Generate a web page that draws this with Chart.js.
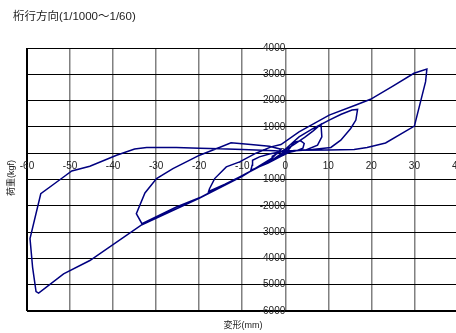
<!DOCTYPE html>
<html>
<head>
<meta charset="utf-8">
<script src="https://cdn.jsdelivr.net/npm/chart.js@4/dist/chart.umd.min.js"></script>
<style>
  html, body { margin: 0; padding: 0; background: #fff; overflow: hidden; }
  #wrap { width: 470px; height: 333px; }
</style>
</head>
<body>
<div id="wrap"><canvas id="hysteresisChart" width="470" height="333"></canvas></div>
<script>
// load test data: deformation (mm) vs load (kgf), in test order
const deformMm = [
  0, 1.0, 2.1, 3.6, 4.4, 4.1, 2.5, 0.5, -1.5, -3.2, -3.0, -1.5, 0,
  2, 4.5, 6.5, 8.3, 8.5, 7.5, 4.8, 1.5, -1, -4, -8, -7.7, -7.6, -6, -3.7, -1, 0,
  3.2, 6.5, 10.2, 13, 15.5, 16.8, 16.4, 15.2, 12.9, 10.6, 6.3, 2, 0, -5, -10, -14, -17.8,
  -17.6, -16.4, -13.7, -10.6, -6.8, -3.3, -1,
  3.2, 10.2, 16.4, 19.8, 25, 29.9, 32.9, 32.6, 30, 23.3, 19, 16, 10, 3, 0, -3,
  -10.6, -19.5, -25.3, -33.3, -34.6, -32.6, -29.9, -26.1, -19.9, -15.3, -12.6, -8, -3.7, -1,
  -3, -10, -20, -33.3, -45.4, -51.5, -57.3, -57.9, -58.7, -59.3, -56.8, -52.3, -49.6,
  -45.4, -39.2, -35, -32.2, -25.3, -19.9, -15.3, -9.9, -2.5, 0
];
const loadKgf = [
  0, 180, 420, 470, 370, 190, 90, 20, -150, -280, -120, 20, 120,
  330, 600, 850, 1100, 620, 305, 120, 80, -120, -380, -650, -460, -270, -140, -30, 60, 150,
  620, 940, 1260, 1480, 1640, 1665, 1260, 940, 495, 220, 140, 100, 20, -420, -850, -1180, -1450,
  -1350, -965, -520, -330, 0, 240, 330,
  810, 1450, 1830, 2050, 2550, 3040, 3200, 2720, 1030, 390, 220, 140, 120, 110, 80, -250,
  -905, -1665, -2045, -2680, -2300, -1510, -965, -585, -76, 218, 394, 330, 267, 150,
  -180, -880, -1720, -2720, -4080, -4590, -5320, -5260, -4340, -3250, -1540, -1000, -675,
  -495, -76, 160, 218, 218, 185, 165, 140, 90, 60
];

// axis ranges
const xRange = [-60, 40];
const yRange = [-6000, 4000];

const titleText = "桁行方向(1/1000～1/60)";
const xTitle = "変形(mm)";
const yTitle = "荷重(kgf)";

document.addEventListener("DOMContentLoaded", function () {
  const points = deformMm.map((x, i) => ({ x: x, y: loadKgf[i] }));

  // draws the chart title and the two axis titles
  const textPlugin = {
    id: "textPlugin",
    afterDraw(chart) {
      const ctx = chart.ctx;
      ctx.save();
      ctx.fillStyle = "#222";
      ctx.textBaseline = "middle";
      ctx.font = "11.5px 'Liberation Sans', 'Noto Sans CJK JP', sans-serif";
      ctx.textAlign = "left";
      ctx.fillText(titleText, 13, 17);

      ctx.font = "9px 'Liberation Sans', 'Noto Sans CJK JP', sans-serif";
      ctx.textAlign = "center";
      ctx.fillText(xTitle, 243, 326);

      ctx.translate(12, 178);
      ctx.rotate(-Math.PI / 2);
      ctx.fillText(yTitle, 0, 0);
      ctx.restore();
    }
  };

  const tickFont = { family: "'Liberation Sans Narrow', 'Liberation Sans', Arial, sans-serif", size: 10 };

  new Chart(document.getElementById("hysteresisChart"), {
    type: "scatter",
    data: {
      datasets: [{
        data: points,
        showLine: true,
        borderColor: "#000080",
        borderWidth: 1.5,
        pointRadius: 0,
        tension: 0,
        fill: false
      }]
    },
    options: {
      responsive: false,
      animation: false,
      layout: { padding: { left: 27, top: 48, right: 10, bottom: 22 } },
      plugins: {
        legend: { display: false },
        tooltip: { enabled: false },
        title: { display: false }
      },
      scales: {
        x: {
          type: "linear",
          min: xRange[0],
          max: xRange[1],
          position: { y: 0 },
          border: { display: false },
          grid: {
            drawTicks: false,
            color: ctx => ctx.tick && ctx.tick.value === xRange[0] ? "#000" : "#808080",
            lineWidth: ctx => ctx.tick && ctx.tick.value === xRange[0] ? 2 : 1.5
          },
          ticks: {
            stepSize: 10, padding: 7, color: "#222", font: tickFont, maxRotation: 0,
            callback: v => String(v)
          }
        },
        y: {
          type: "linear",
          min: yRange[0],
          max: yRange[1],
          position: { x: 0 },
          border: { display: false },
          grid: {
            drawTicks: false,
            color: "#000",
            lineWidth: ctx => ctx.tick && ctx.tick.value === yRange[0] ? 2 : 1
          },
          ticks: {
            stepSize: 1000, padding: 4, color: "#222", font: tickFont,
            callback: v => String(v)
          }
        }
      }
    },
    plugins: [textPlugin]
  });
});
</script>
</body>
</html>
